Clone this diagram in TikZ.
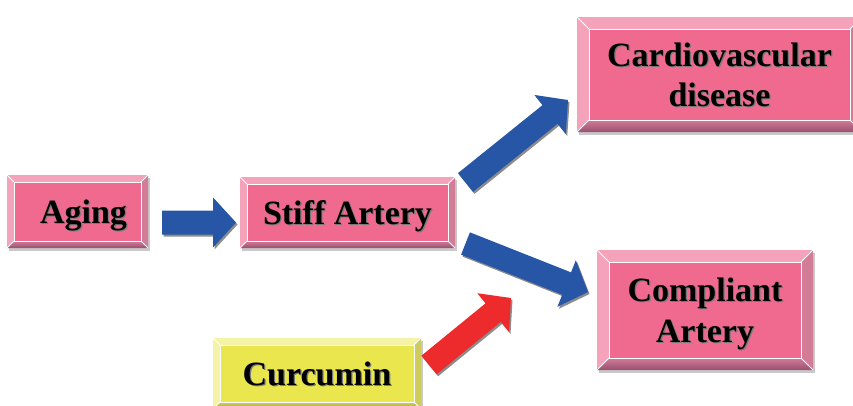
\documentclass[tikz,border=0pt]{standalone}
\usepackage{fontspec}
\setmainfont{Liberation Serif}
\usetikzlibrary{calc,shadows}

\definecolor{pinkface}{HTML}{F0698F}
\definecolor{pinklight}{HTML}{F5A2BB}
\definecolor{pinkside}{HTML}{D27C98}
\definecolor{pinkdark}{HTML}{99506F}
\definecolor{yellowface}{HTML}{EAE74E}
\definecolor{yellowlight}{HTML}{F4F3A8}
\definecolor{yellowside}{HTML}{CFCC5E}
\definecolor{yellowdark}{HTML}{A8A648}
\definecolor{arrowblue}{HTML}{2756A6}
\definecolor{arrowred}{HTML}{EE2B2C}
\definecolor{arrowshadow}{HTML}{8C8C8C}
\definecolor{txtshadow}{HTML}{7A7A7A}

% bold label with a small grey shadow
\newcommand\shtxt[1]{\makebox[0pt][l]{\hspace{1.2pt}\raisebox{-1.2pt}{\textcolor{txtshadow}{#1}}}#1}

% block arrow (shaft 24pt, head 50pt wide, 23pt long) from #2 to #3
\newcommand\fatarrow[3]{%
  \foreach \c/\dx/\dy in {arrowshadow/1.5pt/-2pt, #1/0pt/0pt}
    \fill[\c, transform canvas={xshift=\dx,yshift=\dy}]
      let \p1=(#2), \p2=(#3), \n1={atan2(\y2-\y1,\x2-\x1)},
          \n2={veclen(\x2-\x1,\y2-\y1)-23pt} in
      (\p1) ++(\n1+90:12pt) -- ++(\n1:\n2) -- ++(\n1+90:13pt) -- (\p2)
      -- ($(\p2)+(\n1+180:23pt)+(\n1-90:25pt)$) -- ++(\n1+90:13pt)
      -- ++(\n1+180:\n2) -- cycle;
}

\tikzset{
  bev/.store in=\bevw, bev=7pt,
  bevelbox/.style n args={4}{
    rectangle, inner sep=0pt, outer sep=0pt, fill=#1, align=center,
    text depth=0pt,
    font=\fontsize{34}{40.5}\selectfont\bfseries,
    drop shadow={shadow xshift=2pt,shadow yshift=-3pt,opacity=0.3,fill=black!70},
    path picture={
      \def\pb{path picture bounding box}
      \fill[#2] (\pb.north west) -- (\pb.north east)
        -- ([shift={(-\bevw,-\bevw)}]\pb.north east)
        -- ([shift={(\bevw,-\bevw)}]\pb.north west) -- cycle;
      \fill[#2] (\pb.north west) -- ([shift={(\bevw,-\bevw)}]\pb.north west)
        -- ([shift={(\bevw,\bevw)}]\pb.south west) -- (\pb.south west) -- cycle;
      \fill[#3] (\pb.north east) -- ([shift={(-\bevw,-\bevw)}]\pb.north east)
        -- ([shift={(-\bevw,\bevw)}]\pb.south east) -- (\pb.south east) -- cycle;
      \shade[top color=#3, bottom color=#4] (\pb.south west)
        -- ([shift={(\bevw,\bevw)}]\pb.south west)
        -- ([shift={(-\bevw,\bevw)}]\pb.south east) -- (\pb.south east) -- cycle;
      \draw[white, line width=1pt]
        ([shift={(\bevw,-\bevw)}]\pb.north west) rectangle ([shift={(-\bevw,\bevw)}]\pb.south east);
      \draw[white, line width=0.8pt]
        (\pb.north west) -- ++(\bevw,-\bevw)
        (\pb.north east) -- ++(-\bevw,-\bevw)
        (\pb.south west) -- ++(\bevw,\bevw)
        (\pb.south east) -- ++(-\bevw,\bevw);
    }},
  pinkbox/.style={bevelbox={pinkface}{pinklight}{pinkside}{pinkdark}},
  yellowbox/.style={bevelbox={yellowface}{yellowlight}{yellowside}{yellowdark}},
}

\begin{document}
\begin{tikzpicture}[x=1pt,y=-1pt]
  \useasboundingbox (0,0) rectangle (853,405);

  \node[pinkbox, minimum width=141pt, minimum height=73pt] (aging) at (77.5,211.5)
    {\hspace*{12pt}\shtxt{Aging}};
  \node[pinkbox, minimum width=215pt, minimum height=71pt] (stiff) at (347.5,212.5)
    {\shtxt{Stiff Artery}};
  \node[pinkbox, bev=12pt, minimum width=285pt, minimum height=115pt] (cvd) at (719.5,74.5)
    {\shtxt{Cardiovascular}\\\shtxt{disease}};
  \node[pinkbox, bev=12pt, minimum width=216pt, minimum height=120pt] (compliant) at (705,310)
    {\shtxt{Compliant}\\\shtxt{Artery}};
  \node[yellowbox, minimum width=208pt, minimum height=71pt] (curcumin) at (317,373.5)
    {\shtxt{Curcumin}};

  % arrow ends
  \coordinate (agingout) at (162,222.5);
  \coordinate (stiffin) at (236,222.5);
  \coordinate (stiffup) at (465.5,182.5);
  \coordinate (cvdin) at (568,100);
  \coordinate (stiffdown) at (465.5,243.5);
  \coordinate (compliantin) at (588,292);
  \coordinate (curcuminout) at (429,365);
  \coordinate (curcuminhead) at (511,298);

  \fatarrow{arrowblue}{agingout}{stiffin}
  \fatarrow{arrowblue}{stiffup}{cvdin}
  \fatarrow{arrowblue}{stiffdown}{compliantin}
  \fatarrow{arrowred}{curcuminout}{curcuminhead}
\end{tikzpicture}
\end{document}
